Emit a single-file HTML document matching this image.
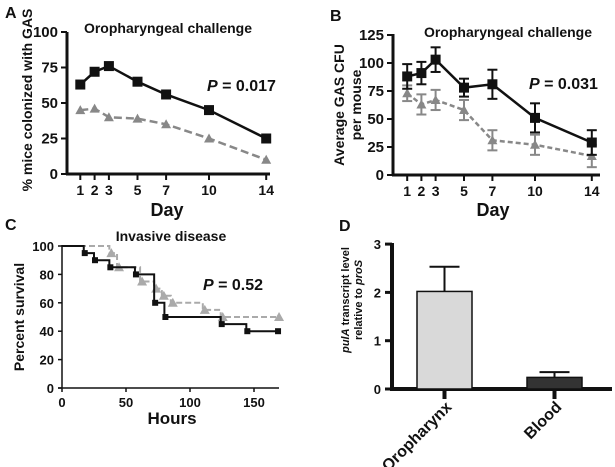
<!DOCTYPE html>
<html><head><meta charset="utf-8"><style>
body{margin:0;background:#fff}
svg{display:block;font-family:"Liberation Sans",Arial,sans-serif;font-weight:bold}
</style></head><body>
<svg id="s" width="615" height="467" viewBox="0 0 615 467"></svg>
<script>
const days=[1,2,3,5,7,10,14];
const aBlack=[63,72,76,65,56,45,25];
const aGray=[45,46,40,39,35,25,10];
const aTicks=[0,25,50,75,100];
const bBlack=[88,91,103,78,81,51,29];
const bBlackErr=[11,10,11,8,13,13,11];
const bGray=[73,63,67,58,31,27,17];
const bGrayErr=[7,9,9,9,9,9,10];
const bTicks=[0,25,50,75,100,125];
const cBlackT=[0,17,25,37,57,72,80,124,144,168];
const cBlackV=[100,95,90,85,80,60,50,45,40,40];
const cGrayT=[0,37,43,61,72,78,85,110,124,168];
const cGrayV=[100,95,85,75,70,65,60,55,50,50];
const cYTicks=[0,20,40,60,80,100];
const cXTicks=[0,50,100,150];
const dCats=["Oropharynx","Blood"];
const dVals=[2.02,0.24];
const dErr=[0.51,0.11];
const dTicks=[0,1,2,3];

const S=document.getElementById('s');
const NS='http://www.w3.org/2000/svg';
function el(tag,attrs,name,txt){const e=document.createElementNS(NS,tag);for(const k in attrs)e.setAttribute(k,attrs[k]);


if(txt!==undefined)e.textContent=txt;S.appendChild(e);return e;}
function line(x1,y1,x2,y2,st,w,name,dash){const a={x1,y1,x2,y2,stroke:st,'stroke-width':w};if(dash)a['stroke-dasharray']=dash;return el('line',a,name);}
function text(x,y,s,size,name,anchor,extra){const a=Object.assign({x,y,'font-size':size,'text-anchor':anchor||'middle',fill:'#111'},extra||{});return el('text',a,name,s);}
function tri(x,y,c,name){el('polygon',{points:`${x},${y-5} ${x-5},${y+4} ${x+5},${y+4}`,fill:c},name);}
function sq(x,y,name,s){s=s||5;el('rect',{x:x-s,y:y-s,width:2*s,height:2*s,fill:'#111'},name);}

// Panel A
const ax=d=>66+(d)*14.3, ay=v=>174-v*1.42;
text(5,18,'A',16,'panel-a-label','start');
text(168,33,'Oropharyngeal challenge',14,'panel-a-title');
line(67,32,67,175,'#111',3,'a-y-axis');line(66,174,270,174,'#111',3,'a-x-axis');
aTicks.forEach(t=>{line(61,ay(t),67,ay(t),'#111',2,'a-y-tick');text(58,ay(t)+5,t,15,'a-y-tick-label','end');});
days.forEach(d=>{line(ax(d),174,ax(d),180,'#111',2,'a-x-tick');text(ax(d),195,d,14,'a-x-tick-label');});
text(167,216,'Day',18,'a-x-axis-title');
text(0,0,'% mice colonized with GAS',14,'a-y-axis-title','middle',{transform:'translate(32,100) rotate(-90)'});
el('text',{x:207,y:91,'font-size':16,fill:'#111'},'a-p-value').innerHTML='<tspan font-style="italic">P</tspan> = 0.017';
el('polyline',{points:days.map((d,i)=>ax(d)+','+ay(aGray[i])).join(' '),fill:'none',stroke:'#888','stroke-width':2.5,'stroke-dasharray':'8,4'},'a-gray-line');
days.forEach((d,i)=>tri(ax(d),ay(aGray[i]),'#888','a-gray-point'));
el('polyline',{points:days.map((d,i)=>ax(d)+','+ay(aBlack[i])).join(' '),fill:'none',stroke:'#111','stroke-width':2.5},'a-black-line');
days.forEach((d,i)=>sq(ax(d),ay(aBlack[i]),'a-black-point'));

// Panel B
const bx=d=>393+d*14.2, by=v=>175-v*1.12;
text(330,21,'B',16,'panel-b-label','start');
text(508,37,'Oropharyngeal challenge',14,'panel-b-title');
line(393,34,393,176,'#111',3,'b-y-axis');line(392,175,600,175,'#111',3,'b-x-axis');
bTicks.forEach(t=>{line(387,by(t),393,by(t),'#111',2,'b-y-tick');text(384,by(t)+5,t,15,'b-y-tick-label','end');});
days.forEach(d=>{line(bx(d),175,bx(d),181,'#111',2,'b-x-tick');text(bx(d),196,d,14,'b-x-tick-label');});
text(493,216,'Day',18,'b-x-axis-title');
text(0,0,'Average GAS CFU',14,'b-y-axis-title','middle',{transform:'translate(344,105) rotate(-90)'});
text(0,0,'per mouse',14,'b-y-axis-title-2','middle',{transform:'translate(361,105) rotate(-90)'});
el('text',{x:529,y:89,'font-size':16,fill:'#111'},'b-p-value').innerHTML='<tspan font-style="italic">P</tspan> = 0.031';
days.forEach((d,i)=>{const x=bx(d);line(x,by(bGray[i]-bGrayErr[i]),x,by(bGray[i]+bGrayErr[i]),'#888',2,'b-gray-errorbar');
line(x-5,by(bGray[i]-bGrayErr[i]),x+5,by(bGray[i]-bGrayErr[i]),'#888',2,'b-gray-errorcap');line(x-5,by(bGray[i]+bGrayErr[i]),x+5,by(bGray[i]+bGrayErr[i]),'#888',2,'b-gray-errorcap');});
el('polyline',{points:days.map((d,i)=>bx(d)+','+by(bGray[i])).join(' '),fill:'none',stroke:'#888','stroke-width':2.5,'stroke-dasharray':'5,3'},'b-gray-line');
days.forEach((d,i)=>tri(bx(d),by(bGray[i]),'#888','b-gray-point'));
days.forEach((d,i)=>{const x=bx(d);line(x,by(bBlack[i]-bBlackErr[i]),x,by(bBlack[i]+bBlackErr[i]),'#111',2,'b-black-errorbar');
line(x-5,by(bBlack[i]-bBlackErr[i]),x+5,by(bBlack[i]-bBlackErr[i]),'#111',2,'b-black-errorcap');line(x-5,by(bBlack[i]+bBlackErr[i]),x+5,by(bBlack[i]+bBlackErr[i]),'#111',2,'b-black-errorcap');});
el('polyline',{points:days.map((d,i)=>bx(d)+','+by(bBlack[i])).join(' '),fill:'none',stroke:'#111','stroke-width':2.5},'b-black-line');
days.forEach((d,i)=>sq(bx(d),by(bBlack[i]),'b-black-point'));

// Panel C
const cx=t=>62+t*1.28, cy=v=>388-v*1.42;
text(5,230,'C',16,'panel-c-label','start');
text(171,241,'Invasive disease',14,'panel-c-title');
line(62,245,62,388,'#111',1.5,'c-y-axis');line(58,388,279,388,'#111',1.5,'c-x-axis');
cYTicks.forEach(t=>{line(58,cy(t),62,cy(t),'#111',1.5,'c-y-tick');text(54,cy(t)+5,t,13,'c-y-tick-label','end');});
cXTicks.forEach(t=>{line(cx(t),388,cx(t),392,'#111',1.5,'c-x-tick');text(cx(t),407,t,13,'c-x-tick-label');});
text(172,424,'Hours',17,'c-x-axis-title');
text(0,0,'Percent survival',14,'c-y-axis-title','middle',{transform:'translate(24,317) rotate(-90)'});
el('text',{x:203,y:290,'font-size':16,fill:'#111'},'c-p-value').innerHTML='<tspan font-style="italic">P</tspan> = 0.52';
function steps(T,V){let p=`${cx(T[0])},${cy(V[0])}`;for(let i=1;i<T.length;i++){p+=` ${cx(T[i])},${cy(V[i-1])} ${cx(T[i])},${cy(V[i])}`;}return p;}
el('polyline',{points:steps(cGrayT,cGrayV),fill:'none',stroke:'#aaa','stroke-width':2,'stroke-dasharray':'6,3'},'c-gray-survival-line');
cGrayT.forEach((t,i)=>{if(i>0)tri(cx(t)+2,cy(cGrayV[i]),'#aaa','c-gray-censor');});
el('polyline',{points:steps(cBlackT,cBlackV),fill:'none',stroke:'#111','stroke-width':2},'c-black-survival-line');
cBlackT.forEach((t,i)=>{if(i>0)sq(cx(t)+1,cy(cBlackV[i]),'c-black-censor',3);});

// Panel D
const dy=v=>389-v*48.3, dx=[417,527], bw=55;
text(339,231,'D',16,'panel-d-label','start');
line(392,243,392,391,'#111',4,'d-y-axis');line(390,389,612,389,'#111',4,'d-x-axis');
dTicks.forEach(t=>{line(385,dy(t),392,dy(t),'#111',3,'d-y-tick');text(381,dy(t)+5,t,13,'d-y-tick-label','end');});
const fills=['#d9d9d9','#333'];
dCats.forEach((c,i)=>{
 const x=dx[i],xm=x+bw/2;
 line(xm,dy(dVals[i]),xm,dy(dVals[i]+dErr[i]),'#111',2,'d-errorbar');
 line(xm-15,dy(dVals[i]+dErr[i]),xm+15,dy(dVals[i]+dErr[i]),'#111',2,'d-errorcap');
 el('rect',{x:x,y:dy(dVals[i]),width:bw,height:389-dy(dVals[i]),fill:fills[i],stroke:'#111','stroke-width':1.5},'bar-'+c.toLowerCase());
 line(xm,389,xm,399,'#111',4,'d-x-tick');
 text(0,0,c,16,'d-x-tick-label','end',{transform:`translate(${xm+8},${408}) rotate(-45)`});
});
el('text',{'font-size':11,'text-anchor':'middle',fill:'#111',transform:'translate(349,300) rotate(-90)'},'d-y-axis-title').innerHTML='<tspan font-style="italic">pulA</tspan> transcript level';
el('text',{'font-size':11,'text-anchor':'middle',fill:'#111',transform:'translate(362,300) rotate(-90)'},'d-y-axis-title-2').innerHTML='relative to <tspan font-style="italic">proS</tspan>';
</script>
</body></html>
